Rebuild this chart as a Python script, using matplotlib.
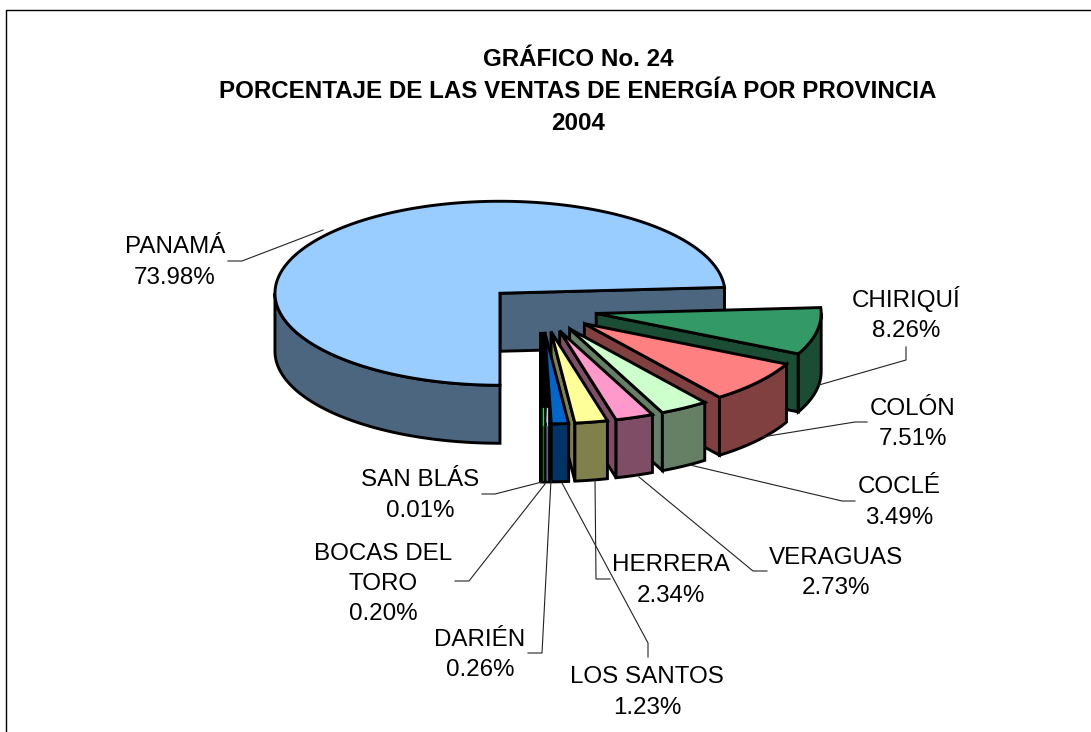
import matplotlib
matplotlib.use('Agg')
import matplotlib.pyplot as plt
from matplotlib.patches import Polygon
import numpy as np

title = 'GRÁFICO No. 24\nPORCENTAJE DE LAS VENTAS DE ENERGÍA POR PROVINCIA\n2004'

# clockwise from the bottom of the pie
provinces = ['PANAMÁ', 'CHIRIQUÍ', 'COLÓN', 'COCLÉ', 'VERAGUAS', 'HERRERA',
             'LOS SANTOS', 'DARIÉN', 'BOCAS DEL\nTORO', 'SAN BLÁS']
shares = [73.98, 8.26, 7.51, 3.49, 2.73, 2.34, 1.23, 0.26, 0.20, 0.01]
colors = ['#99CCFF', '#339966', '#FF8080', '#CCFFCC', '#FF99CC', '#FFFF99',
          '#0066CC', '#CCCCFF', '#00FF00', '#000000']

# label text centre, in pixels
label_x = [175, 906, 913, 899, 836, 671, 647, 480, 383, 420]
label_y = [262.5, 314, 424, 502.5, 573, 580.5, 692.5, 655, 584, 495.5]

# leader lines, label end to slice
leaders = [
    [(228, 261), (242, 261), (323, 230)],
    [(906, 347), (906, 360), (819, 385)],
    [(867, 422), (855, 422), (762, 437)],
    [(855, 501), (842, 501), (690, 465)],
    [(767, 571), (753, 571), (639, 477)],
    [(610, 579), (596, 579), (595, 480)],
    [(648, 657), (648, 643), (562, 483)],
    [(528, 653), (542, 653), (551, 480)],
    [(455, 581), (469, 581), (545, 484)],
    [(482, 494), (495, 494), (542, 482)],
]

start_angle = 180
cx, cy = 541, 309
rx, ry = 225, 92
depth = 58
explode = 0.25

plt.rcParams['font.family'] = ['Liberation Sans', 'DejaVu Sans']

fig = plt.figure(figsize=(10.91, 7.32), dpi=100)
ax = fig.add_axes([0, 0, 1, 1])
ax.set_xlim(0, 1091)
ax.set_ylim(732, 0)
ax.axis('off')

# frame, only top and left are in the crop
ax.plot([6, 6, 1091], [732, 9.5, 9.5], color='black', lw=1)


def darker(c):
    return tuple(v * 0.5 for v in matplotlib.colors.to_rgb(c))


def arc(x0, y0, a, b):
    t = np.radians(np.linspace(a, b, max(int(abs(b - a) * 2), 2)))
    return np.column_stack([x0 + rx * np.sin(t), y0 - ry * np.cos(t)])


def add(points, color):
    ax.add_patch(Polygon(points, closed=True, facecolor=color,
                         edgecolor='black', lw=2.1, joinstyle='miter'))


a0 = start_angle
slivers = []
for share, color in zip(shares, colors):
    a1 = a0 + share * 3.6
    mid = np.radians((a0 + a1) / 2)
    x0 = cx + explode * rx * np.sin(mid)
    y0 = cy - explode * ry * np.cos(mid)
    shade = darker(color)

    # cut face on the clockwise end of the slice
    corner = arc(x0, y0, a1, a1 + 0.01)[0]
    add([(x0, y0), corner, (corner[0], corner[1] + depth), (x0, y0 + depth)], shade)

    # outer wall, front half of the ellipse only
    s = max(a0, 90)
    e = min(a1, 270)
    if e > s:
        top = arc(x0, y0, s, e)
        add(np.vstack([top, (top + [0, depth])[::-1]]), shade)

    # top face
    add(np.vstack([[(x0, y0)], arc(x0, y0, a0, a1)]), color)

    # very thin slices vanish under their outlines, keep a stripe of colour
    if 0.1 < share < 0.5:
        edge = arc(x0, y0, (a0 + a1) / 2, (a0 + a1) / 2 + 0.01)[0]
        slivers.append((edge, color, shade))

    a0 = a1
    if a0 >= 360:
        a0 -= 360

for edge, color, shade in slivers:
    ax.plot([edge[0], edge[0]], [edge[1] - 16, edge[1] + 2], color=color, lw=0.9)
    ax.plot([edge[0], edge[0]], [edge[1] + 2, edge[1] + depth - 2], color=shade, lw=0.9)

for pts in leaders:
    xs, ys = zip(*pts)
    ax.plot(xs, ys, color='#222222', lw=0.8)

for name, share, x, y in zip(provinces, shares, label_x, label_y):
    ax.text(x, y, f'{name}\n{share:.2f}%', ha='center', va='center',
            fontsize=17.4, linespacing=1.48, color='black')

ax.text(578, 91.5, title, ha='center', va='center', fontsize=17.4,
        fontweight='bold', linespacing=1.52)

fig.savefig('out.png', dpi=100)
